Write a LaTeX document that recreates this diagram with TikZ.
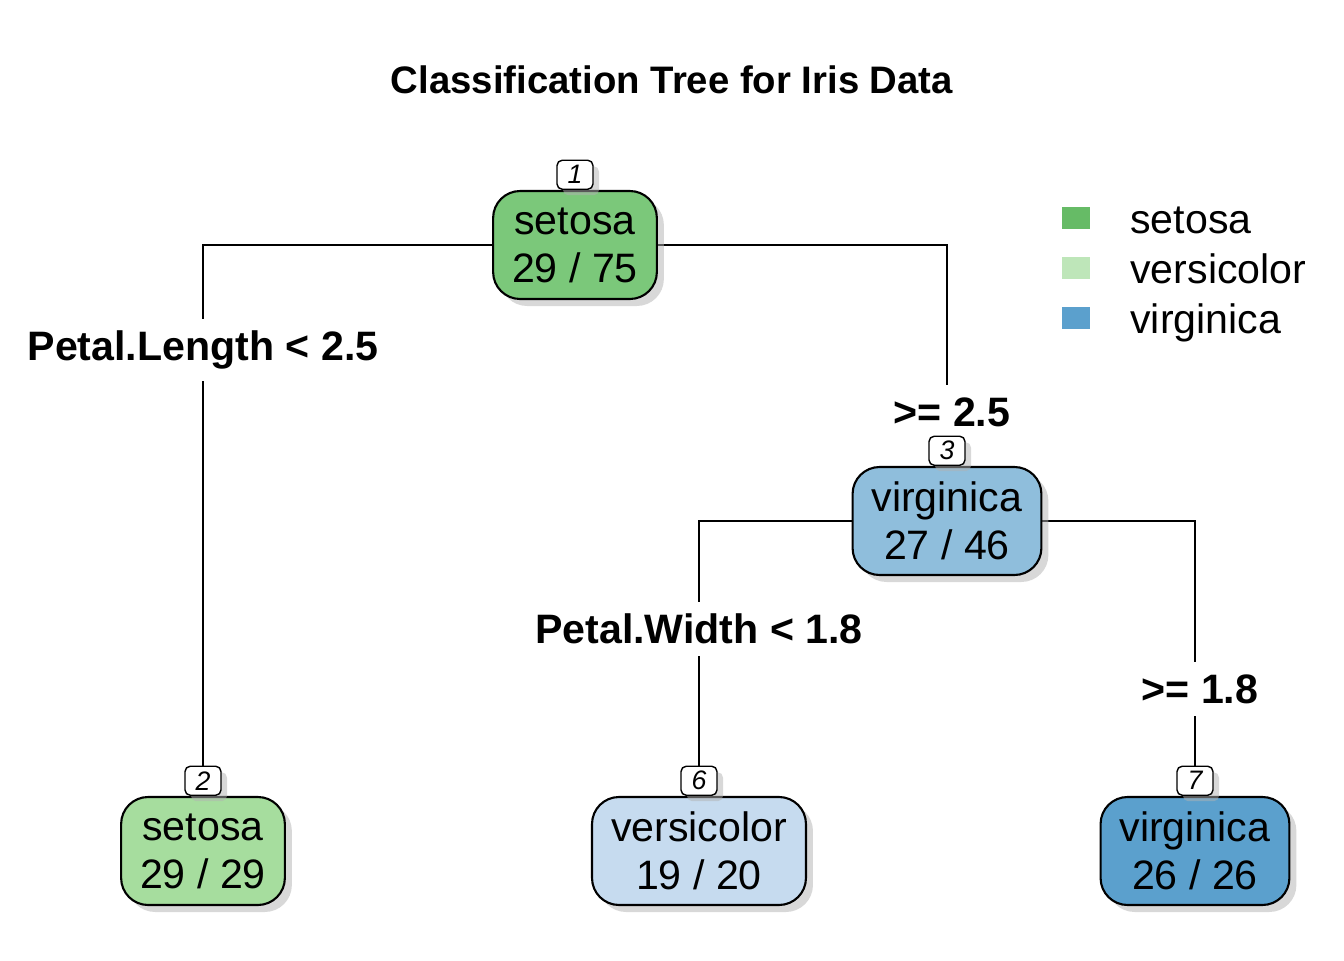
\documentclass[tikz,border=0pt]{standalone}
\usepackage{fontspec}
\setmainfont{Liberation Sans}
\usepackage{tikz}
\usetikzlibrary{positioning, shadows, backgrounds}
\usepackage{xcolor}
\definecolor{setosaA}{HTML}{7BC87A}
\definecolor{setosaB}{HTML}{A6DD9E}
\definecolor{virgA}{HTML}{8FBEDC}
\definecolor{versA}{HTML}{C6DBEF}
\definecolor{virgB}{HTML}{5BA0CD}
\definecolor{legSet}{HTML}{66BB66}
\definecolor{legVer}{HTML}{BEE6B9}
\definecolor{legVir}{HTML}{5BA0CD}

\begin{document}
\begin{tikzpicture}[
    leaf/.style={rectangle, rounded corners=0.27cm,
                 draw=black, semithick, text=black,
                 minimum height=1.08cm, inner xsep=0.19cm,
                 font=\fontsize{11.7}{13.7}\selectfont, align=center,
                 drop shadow={shadow xshift=0.07cm, shadow yshift=-0.07cm, fill=black!30}},
    nid/.style={rectangle, rounded corners=1.5pt,
                draw=black, thin, fill=white,
                minimum width=0.36cm, minimum height=0.29cm, inner sep=0pt,
                font=\fontsize{7.6}{8}\itshape, anchor=south,
                drop shadow={shadow xshift=0.06cm, shadow yshift=-0.06cm, fill=black!30}},
    split/.style={fill=white, inner xsep=0.05cm, inner ysep=0.12cm,
                  font=\fontsize{11.7}{14}\selectfont\bfseries},
    edge/.style={semithick, draw=black},
    key/.style={rectangle, minimum width=0.28cm, minimum height=0.22cm, inner sep=0pt},
  ]
    \useasboundingbox (0,0) rectangle (13.44,9.6);

    \node[font=\fontsize{10.9}{13}\selectfont\bfseries] (title) at (6.72,8.80)
      {Classification Tree for Iris Data};

    \node[leaf, fill=setosaA] (n1) at (5.75,7.15)  {setosa\\29 / 75};
    \node[leaf, fill=virgA]   (n3) at (9.47,4.39)  {virginica\\27 / 46};
    \node[leaf, fill=setosaB] (n2) at (2.03,1.09)  {setosa\\29 / 29};
    \node[leaf, fill=versA]   (n6) at (6.99,1.09)  {versicolor\\19 / 20};
    \node[leaf, fill=virgB]   (n7) at (11.95,1.09) {virginica\\26 / 26};

    \foreach \n/\k in {n1/1, n2/2, n3/3, n6/6, n7/7}
      \node[nid] (k\k) at (\n.north) {\k};

    \begin{pgfonlayer}{background}
      \draw[edge] (n1.west) -| (k2.north);
      \draw[edge] (n1.east) -| (k3.north);
      \draw[edge] (n3.west) -| (k6.north);
      \draw[edge] (n3.east) -| (k7.north);

      \node[split] (s2) at (2.03,6.10)  {Petal.Length < 2.5};
      \node[split] (s3) at (9.52,5.48)  {>= 2.5};
      \node[split] (s6) at (6.99,3.31)  {Petal.Width < 1.8};
      \node[split] (s7) at (12.00,2.71) {>= 1.8};
    \end{pgfonlayer}

    % Legend
    \foreach \c/\t/\y [count=\i] in {legSet/setosa/7.42, legVer/versicolor/6.92, legVir/virginica/6.42} {
      \node[key, fill=\c] (key\i) at (10.76,\y) {};
      \node[font=\fontsize{11.7}{14}\selectfont, anchor=base west, inner xsep=0pt,
            right=0.39cm of key\i, anchor=base west, yshift=-0.15cm] (lab\i) {\t};
    }
\end{tikzpicture}
\end{document}
